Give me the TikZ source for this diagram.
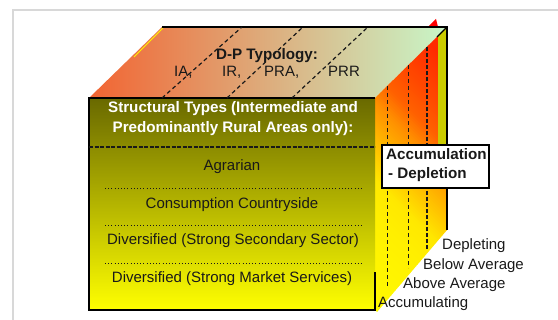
\documentclass[tikz,border=0pt]{standalone}
\usepackage{fontspec}
\setmainfont{Liberation Sans}
\definecolor{frontTop}{RGB}{105,105,0}
\definecolor{frontBot}{RGB}{255,255,0}
\definecolor{topL}{RGB}{242,100,50}
\definecolor{topM}{RGB}{232,192,150}
\definecolor{topR}{RGB}{200,246,200}
\definecolor{stripCol}{RGB}{204,204,0}
\definecolor{frameGray}{RGB}{216,216,216}
\definecolor{txt}{RGB}{25,25,25}
\begin{document}
\begin{tikzpicture}[x=1pt,y=-1pt,
  font=\fontsize{15}{18}\selectfont,
  edge/.style={draw=black, line width=1.1pt},
  topdash/.style={draw=txt, line width=1.2pt, dash pattern=on 4pt off 3pt},
  vdash/.style={draw=txt, line width=0.8pt, dash pattern=on 4pt off 3pt},
  vdashthick/.style={draw=txt, line width=1.5pt, dash pattern=on 4pt off 2pt},
  sepdash/.style={draw=txt, line width=1.3pt, dash pattern=on 4pt off 1.5pt},
  sepdot/.style={draw=txt, line width=0.9pt, dash pattern=on 0.8pt off 2.4pt},
  ctr/.style={anchor=base, inner sep=0pt, text=txt},
  lbl/.style={anchor=base west, inner sep=0pt, text=txt},
  boldtxt/.style={font=\fontsize{15.2}{18}\selectfont\bfseries},
  ttl/.style={anchor=base, inner sep=0pt, text=white, boldtxt},
]
\useasboundingbox (0,0) rectangle (558,320);
% frame
\draw[frameGray, line width=1.3pt] (13,330) -- (13,10) -- (570,10);

% corners
\coordinate (FL) at (89,98);
\coordinate (FR) at (375,98);
\coordinate (BL) at (162,27);
\coordinate (BR) at (447,27);
\coordinate (FBL) at (89,310);
\coordinate (FBR) at (375,310);
\coordinate (RB) at (447,230);
\coordinate (RBf) at (377,312);

% top face
\shade[left color=topL, middle color=topM, right color=topR]
  (FL) -- (BL) -- (BR) -- (FR) -- cycle;
\draw[yellow, line width=1pt] (163,28) -- (134,57);

% right face: diagonal gradient built from thin bands (yellow lower left -> red upper right)
\begin{scope}
  \clip (FR) -- (BR) -- (RB) -- (RBf) -- (FBR) -- cycle;
  \foreach \c in {60,63,...,426} {
    \pgfmathsetmacro{\g}{\c<157 ? 0.98-0.04*(\c-65)/92 : (\c<193 ? 0.94-0.03*(\c-157)/36 : (\c<243 ? 0.91-0.22*(\c-193)/50 : (\c<271 ? 0.69-0.125*(\c-243)/28 : (\c<299 ? 0.565-0.185*(\c-271)/28 : (\c<328 ? 0.38-0.08*(\c-299)/29 : (\c<385 ? 0.30-0.14*(\c-328)/57 : 0.16))))))}
    \definecolor{bandc}{rgb}{1,\g,0}
    \fill[bandc] (\c,0) -- (\c+330,330) -- (\c+333.6,330) -- (\c+3.6,0) -- cycle;
  }
\end{scope}
\fill[stripCol] (438,36) -- (447,27) -- (447,160) -- (438,160) -- cycle;
\fill[red] (428,27) -- (436,19) -- (438,27) -- cycle;

% front face
\shade[top color=frontTop, bottom color=frontBot] (FL) rectangle (FBR);

% edges
\draw[edge] (BL) -- (BR) -- (RB);
\draw[edge] (437,37) -- (BR);
\draw[edge] (FR) -- (FL) -- (FBL) -- (FBR) -- (375,272);

% top face dashed lines
\coordinate (t1a) at (162,98); \coordinate (t1b) at (242,27);
\coordinate (t2a) at (227,98); \coordinate (t2b) at (303,27);
\coordinate (t3a) at (292,98); \coordinate (t3b) at (368,27);
\draw[topdash] (t1a) -- (t1b);
\draw[topdash] (t2a) -- (t2b);
\draw[topdash] (t3a) -- (t3b);

% right face dashed verticals
\coordinate (v1a) at (387,86); \coordinate (v1b) at (387,288);
\coordinate (v2a) at (408,65); \coordinate (v2b) at (408,268);
\coordinate (v3a) at (427,47); \coordinate (v3b) at (427,250);
\draw[vdash] (v1a) -- (v1b);
\draw[vdash] (v2a) -- (v2b);
\draw[vdashthick] (v3a) -- (v3b);

% front separators
\coordinate (s0a) at (89,147); \coordinate (s0b) at (375,147);
\draw[sepdash] (s0a) -- (s0b);
\coordinate (s1a) at (105,188); \coordinate (s1b) at (362,188);
\coordinate (s2a) at (105,225); \coordinate (s2b) at (362,225);
\coordinate (s3a) at (105,263); \coordinate (s3b) at (362,263);
\draw[sepdot] (s1a) -- (s1b);
\draw[sepdot] (s2a) -- (s2b);
\draw[sepdot] (s3a) -- (s3b);

% top texts
\node[ctr, boldtxt] (dp) at (267,60) {D-P Typology:};
\node[lbl] (ia) at (174,77) {IA,};
\node[lbl] (ir) at (222,77) {IR,};
\node[lbl] (pra) at (264,77) {PRA,};
\node[lbl] (prr) at (328,77) {PRR};

% front texts
\node[ttl] (st1) at (233,113) {Structural Types (Intermediate and};
\node[ttl] (st2) at (233,133) {Predominantly Rural Areas only):};
\node[ctr] (agr) at (232,171) {Agrarian};
\node[ctr] (con) at (232,209) {Consumption Countryside};
\node[ctr] (div1) at (233,245) {Diversified (Strong Secondary Sector)};
\node[ctr] (div2) at (232,283) {Diversified (Strong Market Services)};

% box
\node[draw=black, line width=1.6pt, fill=white, minimum width=107pt, minimum height=43pt, inner sep=0pt] (accbox) at (435.5,166.5) {};
\node[lbl, boldtxt] (acc1) at (386,160) {Accumulation};
\node[lbl, boldtxt] (acc2) at (388,179) {- Depletion};

% right labels
\node[lbl] (dep) at (442,250) {Depleting};
\node[lbl] (bel) at (423,270) {Below Average};
\node[lbl] (abo) at (403,289) {Above Average};
\node[lbl] (acm) at (378,308) {Accumulating};
\end{tikzpicture}
\end{document}
